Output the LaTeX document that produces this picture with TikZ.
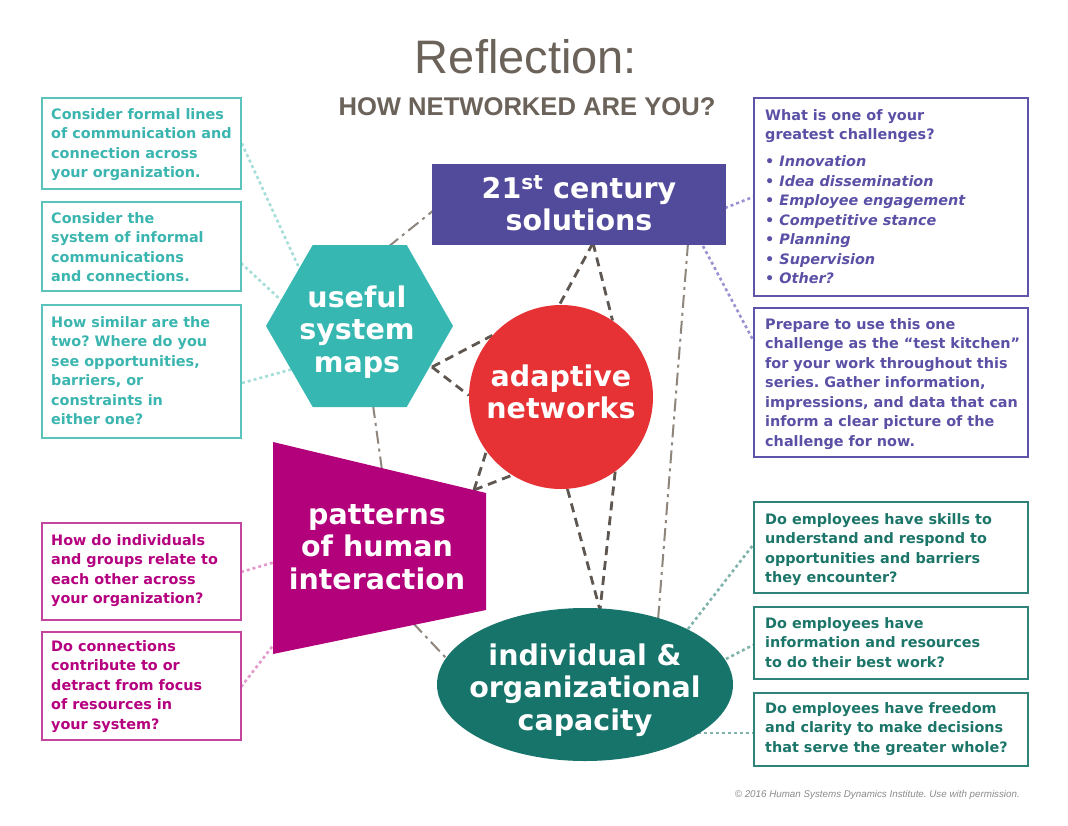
\documentclass[tikz,border=0pt]{standalone}
\usepackage{fontspec}
\setmainfont{DejaVu Sans}
\newfontfamily\ttlfont{Liberation Sans}
\usetikzlibrary{shapes.geometric}
\frenchspacing
\pgfdeclarelayer{back}
\pgfdeclarelayer{bg}
\pgfsetlayers{back,bg,main}
\definecolor{ttlgrey}{HTML}{6B625A}
\definecolor{tealtxt}{HTML}{3BB5AF}
\definecolor{tealbrd}{HTML}{5BC2BC}
\definecolor{hexfill}{HTML}{37B7B1}
\definecolor{purpfill}{HTML}{524A9A}
\definecolor{purptxt}{HTML}{5A50A5}
\definecolor{purpbrd}{HTML}{5E54AA}
\definecolor{redfill}{HTML}{E63234}
\definecolor{magfill}{HTML}{B3007B}
\definecolor{magtxt}{HTML}{B5007F}
\definecolor{magbrd}{HTML}{C4459E}
\definecolor{dtfill}{HTML}{17746A}
\definecolor{dttxt}{HTML}{1C7569}
\definecolor{dtbrd}{HTML}{2F8378}
\definecolor{ddgrey}{HTML}{8E857D}
\definecolor{dsgrey}{HTML}{5E5751}
\definecolor{dotteal}{HTML}{A5DDD9}
\definecolor{dotpink}{HTML}{E39BCB}
\definecolor{dotpurp}{HTML}{9A93D2}
\definecolor{dotdt}{HTML}{7FB3AC}
\definecolor{copygrey}{HTML}{8A8A8A}
\begin{document}
\begin{tikzpicture}[x=1pt,y=-1pt,
  qbox/.style={draw, line width=1.8pt, inner sep=0pt, anchor=north west},
  qtxt/.style={font=\fontsize{14.4}{19.5}\selectfont\bfseries\frenchspacing, align=left, inner sep=0pt, anchor=north west},
  bigtxt/.style={text=white, font=\fontsize{28.5}{32.5}\selectfont\bfseries, align=center, inner sep=0pt},
  dashdot/.style={draw=ddgrey, line width=2pt, dash pattern=on 13pt off 5pt on 3pt off 5pt},
  dashline/.style={draw=dsgrey, line width=2.8pt, dash pattern=on 9pt off 6pt},
  dotline/.style={line width=2.6pt, dash pattern=on 3pt off 3pt}
]
\useasboundingbox (0,0) rectangle (1068,825);
\begin{pgfonlayer}{back}
\fill[white] (0,0) rectangle (1068,825);
\end{pgfonlayer}

% Title
\node[anchor=base, text=ttlgrey, font=\ttlfont\fontsize{47}{50}\selectfont, inner sep=0pt] (title) at (526,73) {Reflection:};
\node[anchor=base, text=ttlgrey, font=\ttlfont\bfseries\fontsize{25.6}{28}\selectfont, inner sep=0pt] (subtitle) at (527,115) {HOW NETWORKED ARE YOU?};

% Central shapes
\node[fill=purpfill, minimum width=294pt, minimum height=81pt, inner sep=0pt] (sol) at (579,204.5) {};
\node[bigtxt] (solt) at (579,203) {21\textsuperscript{st} century\\solutions};

\fill[hexfill] (266,326) -- (312.7,245) -- (406.7,245) -- (453,326) -- (406.7,407) -- (312.7,407) -- cycle;
\node[bigtxt] (usm) at (357,332) {useful\\system\\maps};

\node[circle, fill=redfill, minimum size=184pt, inner sep=0pt] (adn) at (561,397) {};
\node[bigtxt] (adnt) at (561,392) {adaptive\\networks};

\fill[magfill] (273,442) -- (486,493) -- (486,610) -- (273,654) -- cycle;
\node[bigtxt] (phi) at (377,547) {patterns\\of human\\interaction};

\node[ellipse, fill=dtfill, minimum width=296pt, minimum height=153pt, inner sep=0pt] (ioc) at (585,684.5) {};
\node[bigtxt] (ioct) at (585,690) {individual \&\\organizational\\capacity};

% Question boxes
\node[qbox, draw=tealbrd, minimum width=199pt, minimum height=91pt] (b1) at (41,97) {};
\node[qtxt, text=tealtxt] (t1) at ([shift={(10,11)}]b1.north west) {Consider formal lines\\of communication and\\connection across\\your organization.};
\node[qbox, draw=tealbrd, minimum width=199pt, minimum height=89pt] (b2) at (41,201) {};
\node[qtxt, text=tealtxt] (t2) at ([shift={(10,11)}]b2.north west) {Consider the\\system of informal\\communications\\and connections.};
\node[qbox, draw=tealbrd, minimum width=199pt, minimum height=133pt] (b3) at (41,304) {};
\node[qtxt, text=tealtxt] (t3) at ([shift={(10,12)}]b3.north west) {How similar are the\\two? Where do you\\see opportunities,\\barriers, or\\constraints in\\either one?};

\node[qbox, draw=magbrd, minimum width=199pt, minimum height=97pt] (b4) at (41,522) {};
\node[qtxt, text=magtxt] (t4) at ([shift={(10,12)}]b4.north west) {How do individuals\\and groups relate to\\each other across\\your organization?};
\node[qbox, draw=magbrd, minimum width=199pt, minimum height=108pt] (b5) at (41,631) {};
\node[qtxt, text=magtxt] (t5) at ([shift={(10,9)}]b5.north west) {Do connections\\contribute to or\\detract from focus\\of resources in\\your system?};

\node[qbox, draw=purpbrd, minimum width=274pt, minimum height=198pt] (b6) at (753,97) {};
\node[qtxt, text=purptxt] (t6) at ([shift={(12,12)}]b6.north west) {What is one of your\\greatest challenges?\\[7.5pt]
\textbullet{} \textit{Innovation}\\
\textbullet{} \textit{Idea dissemination}\\
\textbullet{} \textit{Employee engagement}\\
\textbullet{} \textit{Competitive stance}\\
\textbullet{} \textit{Planning}\\
\textbullet{} \textit{Supervision}\\
\textbullet{} \textit{Other?}};
\node[qbox, draw=purpbrd, minimum width=274pt, minimum height=149pt] (b7) at (753,307) {};
\node[qtxt, text=purptxt] (t7) at ([shift={(12,11)}]b7.north west) {Prepare to use this one\\challenge as the “test kitchen”\\for your work throughout this\\series. Gather information,\\impressions, and data that can\\inform a clear picture of the\\challenge for now.};

\node[qbox, draw=dtbrd, minimum width=274pt, minimum height=91pt] (b8) at (753,501) {};
\node[qtxt, text=dttxt] (t8) at ([shift={(12,12)}]b8.north west) {Do employees have skills to\\understand and respond to\\opportunities and barriers\\they encounter?};
\node[qbox, draw=dtbrd, minimum width=274pt, minimum height=72pt] (b9) at (753,606) {};
\node[qtxt, text=dttxt] (t9) at ([shift={(12,11)}]b9.north west) {Do employees have\\information and resources\\to do their best work?};
\node[qbox, draw=dtbrd, minimum width=274pt, minimum height=73pt] (b10) at (753,692) {};
\node[qtxt, text=dttxt] (t10) at ([shift={(12,10)}]b10.north west) {Do employees have freedom\\and clarity to make decisions\\that serve the greater whole?};

% Copyright
\node[anchor=base east, text=copygrey, font=\ttlfont\itshape\fontsize{9.8}{11}\selectfont, inner sep=0pt] (copy) at (1020,797) {© 2016 Human Systems Dynamics Institute. Use with permission.};

% Connectors (behind shapes)
\begin{pgfonlayer}{bg}
\coordinate (hexTop) at (388,247);
\coordinate (solLeft) at (434,210);
\coordinate (hexBot) at (373,405);
\coordinate (phiTop) at (382,470);
\coordinate (solBotR) at (688,243);
\coordinate (iocTopR) at (658,620);
\coordinate (phiBot) at (413,623);
\coordinate (iocLeft) at (447,659);
\coordinate (solBotM) at (593,243);
\coordinate (hexRight) at (432,367);
\coordinate (phiTopR) at (474,490);
\coordinate (iocTopM) at (600,610);
\draw[dashdot] (hexTop) -- (solLeft);
\draw[dashdot] (hexBot) -- (phiTop);
\draw[dashdot] (solBotR) -- (iocTopR);
\draw[dashdot] (phiBot) -- (iocLeft);
\draw[dashline] (solBotM) -- (adn.91);
\draw[dashline] (solBotM) -- (adn.56);
\draw[dashline] (hexRight) -- (adn.138);
\draw[dashline] (hexRight) -- (adn.179);
\draw[dashline] (phiTopR) -- (adn.216);
\draw[dashline] (phiTopR) -- (adn.238);
\draw[dashline] (adn.274) -- (iocTopM);
\draw[dashline] (adn.306) -- (iocTopM);
% dotted links to question boxes
\coordinate (h1) at (300,270);
\coordinate (h2) at (283,302);
\coordinate (h3) at (293,369);
\draw[dotline, draw=dotteal] (b1.east) -- (h1);
\draw[dotline, draw=dotteal] (241,263) -- (h2);
\draw[dotline, draw=dotteal] (242,383) -- (h3);
\coordinate (p1) at (275,562);
\coordinate (p2) at (275,643);
\draw[dotline, draw=dotpink] (241,572) -- (p1);
\draw[dotline, draw=dotpink] (241,687) -- (p2);
\coordinate (s1) at (725,208);
\coordinate (s2) at (703,246);
\draw[dotline, draw=dotpurp] (s1) -- (753,197);
\draw[dotline, draw=dotpurp] (s2) -- (753,340);
\coordinate (i1) at (688,629);
\coordinate (i2) at (726,659);
\coordinate (i3) at (698,733);
\draw[dotline, draw=dotdt] (i1) -- (753,545);
\draw[dotline, draw=dotdt] (i2) -- (753,645);
\draw[dotline, draw=dotdt] (i3) -- (753,733);
\end{pgfonlayer}
\end{tikzpicture}
\end{document}
